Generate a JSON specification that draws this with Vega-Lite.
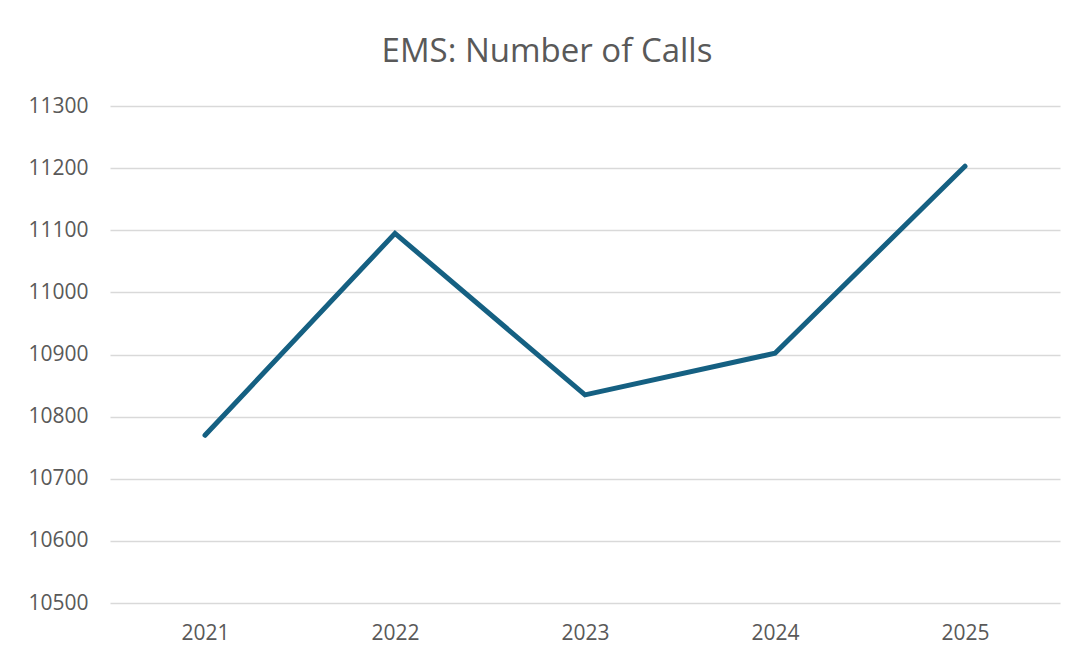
{
  "$schema": "https://vega.github.io/schema/vega-lite/v6.json",
  "autosize": {"type": "none"},
  "width": 950,
  "height": 497,
  "padding": {"left": 110, "top": 106, "right": 19, "bottom": 54},
  "background": "white",
  "title": {
    "text": "EMS: Number of Calls",
    "font": "Open Sans",
    "fontSize": 33,
    "fontWeight": "normal",
    "color": "#595959",
    "anchor": "middle",
    "dx": -38,
    "offset": 26
  },
  "data": {
    "values": [
      {"year": "2021", "calls": 10770},
      {"year": "2022", "calls": 11095},
      {"year": "2023", "calls": 10835},
      {"year": "2024", "calls": 10902},
      {"year": "2025", "calls": 11203}
    ]
  },
  "mark": {"type": "line", "color": "#156082", "strokeWidth": 5, "strokeCap": "round", "strokeJoin": "miter"},
  "encoding": {
    "x": {
      "field": "year",
      "type": "ordinal",
      "scale": {"paddingInner": 0, "paddingOuter": 0},
      "axis": {
        "title": null,
        "labelAngle": 0,
        "labelFont": "Open Sans",
        "labelFontSize": 21,
        "labelColor": "#595959",
        "labelPadding": 19,
        "domain": false,
        "ticks": false,
        "grid": false
      }
    },
    "y": {
      "field": "calls",
      "type": "quantitative",
      "scale": {"domain": [10500, 11300], "nice": false, "zero": false},
      "axis": {
        "title": null,
        "values": [10500, 10600, 10700, 10800, 10900, 11000, 11100, 11200, 11300],
        "format": "d",
        "labelFont": "Open Sans",
        "labelFontSize": 21,
        "labelColor": "#595959",
        "labelPadding": 22,
        "domain": false,
        "ticks": false,
        "grid": true,
        "gridColor": "#d9d9d9",
        "gridWidth": 1.5
      }
    }
  },
  "config": {"view": {"stroke": null}}
}
